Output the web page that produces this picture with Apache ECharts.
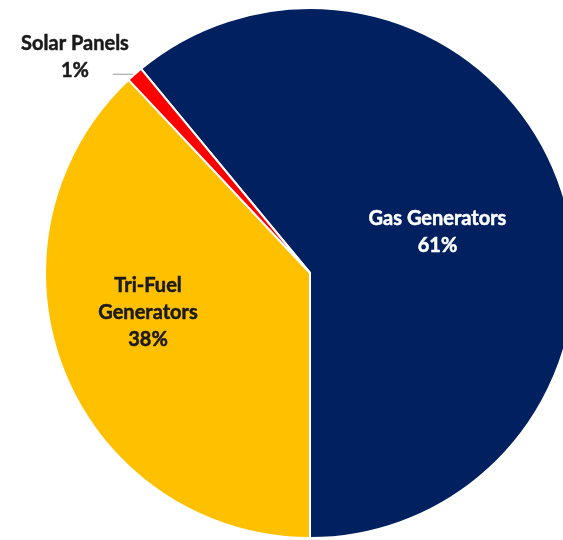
<!DOCTYPE html>
<html>
<head>
<meta charset="utf-8">
<script src="https://cdn.jsdelivr.net/npm/echarts@6/dist/echarts.min.js"></script>
<style>
html,body{margin:0;padding:0;background:#fff;}
#chart{width:563px;height:540px;}
</style>
</head>
<body>
<div id="chart"></div>
<script>
const categories = ['Gas Generators', 'Tri-Fuel Generators', 'Solar Panels'];
const labelNames = ['Gas Generators', 'Tri-Fuel\nGenerators', 'Solar Panels'];
const values = [61, 38, 1];
const colors = ['#002060', '#FFC000', '#FF0000'];

const chart = echarts.init(document.getElementById('chart'));
const fontFamily = 'Lato, "Open Sans", sans-serif';

const data = categories.map((c, i) => ({
  name: c,
  value: values[i],
  itemStyle: { color: colors[i] },
  label: i === 0 ? { color: '#ffffff', textBorderColor: '#ffffff' }
    : (i === 1 ? { color: '#1a1a1a', textBorderColor: '#1a1a1a' }
      : { color: '#1a1a1a', textBorderColor: '#1a1a1a', position: 'outside' }),
  labelLine: { show: i === 2 }
}));

chart.setOption({
  backgroundColor: '#ffffff',
  animation: false,
  series: [{
    type: 'pie',
    center: [310, 273],
    radius: [0, 265],
    startAngle: 129.6,
    clockwise: true,
    avoidLabelOverlap: false,
    data: data,
    itemStyle: { borderColor: '#ffffff', borderWidth: 2 },
    label: {
      show: true,
      position: 'inside',
      fontFamily: fontFamily,
      fontWeight: 'bold',
      fontSize: 20,
      lineHeight: 27,
      textBorderWidth: 0.5,
      align: 'center',
      formatter: function (p) {
        return labelNames[p.dataIndex] + '\n' + p.value + '%';
      }
    },
    labelLine: {
      show: true,
      length: 4,
      length2: 22,
      lineStyle: { color: '#999999', width: 1 }
    },
    labelLayout: function (params) {
      if (params.dataIndex === 0) {
        return { dy: 5 };
      }
      if (params.dataIndex === 1) {
        return { dx: -36, dy: -10 };
      }
      if (params.dataIndex === 2) {
        const pts = params.labelLinePoints;
        const start = pts ? pts[0] : [134, 73];
        return {
          x: 75, y: 57, align: 'center', verticalAlign: 'middle',
          labelLinePoints: [start, [start[0] - 11, start[1]], [start[0] - 22, start[1]]]
        };
      }
      return {};
    }
  }]
});
</script>
</body>
</html>
